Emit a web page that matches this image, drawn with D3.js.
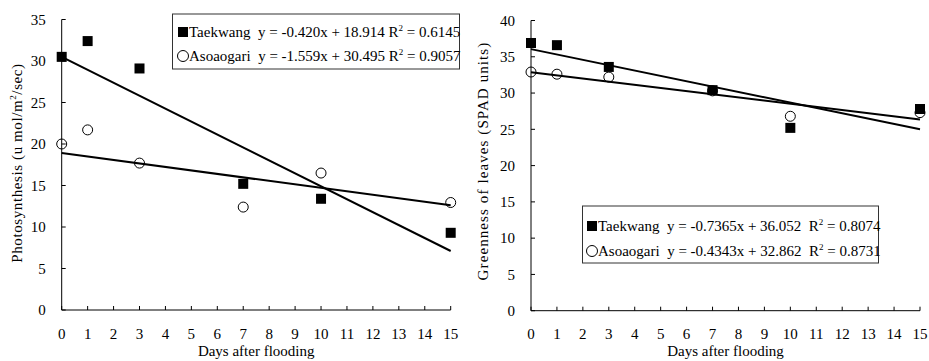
<!DOCTYPE html>
<html>
<head>
<meta charset="utf-8">
<script src="https://cdn.jsdelivr.net/npm/d3@7"></script>
<style>
  html, body { margin: 0; padding: 0; background: #fff; }
  svg { display: block; }
  text { font-family: "Liberation Serif", "Times New Roman", serif; fill: #000; }
</style>
</head>
<body>
<svg id="chart" width="929" height="361" font-family="Liberation Serif, Times New Roman, serif"></svg>
<script>
// ---- data ----
const days = [0, 1, 3, 7, 10, 15];
const xTicks = d3.range(0, 16);

const photoTaekwang  = [30.5, 32.4, 29.1, 15.2, 13.4, 9.3];
const photoAsoaogari = [20.0, 21.7, 17.7, 12.4, 16.5, 12.95];
const photoTicks = [0, 5, 10, 15, 20, 25, 30, 35];

const greenTaekwang  = [36.9, 36.6, 33.6, 30.4, 25.2, 27.8];
const greenAsoaogari = [32.9, 32.6, 32.2, 30.3, 26.8, 27.3];
const greenTicks = [0, 5, 10, 15, 20, 25, 30, 35, 40];

// trend lines [slope, intercept]
const photoTrendTaekwang  = [-1.559, 30.495];
const photoTrendAsoaogari = [-0.420, 18.914];
const greenTrendTaekwang  = [-0.7365, 36.052];
const greenTrendAsoaogari = [-0.4343, 32.862];

// legend texts (as printed in the original)
const photoLegend = [
  {name: "Taekwang", eq: "  y = -0.420x + 18.914 R", r2: " = 0.6145", sym: "square"},
  {name: "Asoaogari", eq: "  y = -1.559x + 30.495 R", r2: " = 0.9057", sym: "circle"}
];
const greenLegend = [
  {name: "Taekwang", eq: "  y = -0.7365x + 36.052  R", r2: " = 0.8074", sym: "square"},
  {name: "Asoaogari", eq: "  y = -0.4343x + 32.862  R", r2: " = 0.8731", sym: "circle"}
];

const svg = d3.select("#chart");
const FS = 15;

function panel(cfg) {
  const g = svg.append("g");
  const x = d3.scaleLinear().domain([0, 15]).range([cfg.x0, cfg.x1]);
  const y = d3.scaleLinear().domain([0, cfg.ymax]).range([cfg.yb, cfg.yt]);

  // axes lines
  g.append("line").attr("x1", cfg.x0).attr("x2", cfg.x0).attr("y1", cfg.yt).attr("y2", cfg.yb)
    .attr("stroke", "#000").attr("stroke-width", 1);
  g.append("line").attr("x1", cfg.x0).attr("x2", cfg.x1).attr("y1", cfg.yb).attr("y2", cfg.yb)
    .attr("stroke", "#000").attr("stroke-width", 1);

  // y ticks (inward)
  g.selectAll(".yt").data(cfg.yticks).enter().append("line")
    .attr("x1", cfg.x0).attr("x2", cfg.x0 + 4)
    .attr("y1", d => y(d)).attr("y2", d => y(d))
    .attr("stroke", "#000");
  g.selectAll(".yl").data(cfg.yticks).enter().append("text")
    .attr("x", cfg.x0 - 16).attr("y", d => y(d)).attr("dy", "0.35em")
    .attr("text-anchor", "end").attr("font-size", FS).text(d => d);

  // x ticks (inward)
  g.selectAll(".xt").data(xTicks).enter().append("line")
    .attr("x1", d => x(d)).attr("x2", d => x(d))
    .attr("y1", cfg.yb).attr("y2", cfg.yb - 4)
    .attr("stroke", "#000");
  g.selectAll(".xl").data(xTicks).enter().append("text")
    .attr("x", d => x(d)).attr("y", 339)
    .attr("text-anchor", "middle").attr("font-size", FS).text(d => d);

  // titles
  g.append("text").attr("x", (cfg.x0 + cfg.x1) / 2).attr("y", 356)
    .attr("text-anchor", "middle").attr("font-size", FS).text("Days after flooding");
  const yt = g.append("text")
    .attr("transform", `translate(${cfg.ytx},${cfg.ytc}) rotate(-90)`)
    .attr("text-anchor", "middle").attr("font-size", FS).attr("dy", "0.35em")
    .attr("letter-spacing", cfg.yls);
  cfg.ytitle(yt);

  // markers
  g.selectAll(".c").data(days.map((d, i) => [d, cfg.b[i]])).enter().append("circle")
    .attr("cx", d => x(d[0])).attr("cy", d => y(d[1])).attr("r", 5)
    .attr("fill", "none").attr("stroke", "#000").attr("stroke-width", 1);
  g.selectAll(".s").data(days.map((d, i) => [d, cfg.a[i]])).enter().append("rect")
    .attr("x", d => x(d[0]) - 5).attr("y", d => y(d[1]) - 5)
    .attr("width", 10).attr("height", 10).attr("fill", "#000");

  // trend lines
  [cfg.ta, cfg.tb].forEach(t => {
    g.append("line")
      .attr("x1", x(0)).attr("y1", y(t[1]))
      .attr("x2", x(15)).attr("y2", y(t[0] * 15 + t[1]))
      .attr("stroke", "#000").attr("stroke-width", 2);
  });

  // legend
  const L = cfg.legend;
  g.append("rect").attr("x", L.x).attr("y", L.y).attr("width", L.w).attr("height", L.h)
    .attr("fill", "#fff").attr("stroke", "#333").attr("stroke-width", 1);
  L.items.forEach((it, i) => {
    const cy = L.rows[i];
    if (it.sym === "square") {
      g.append("rect").attr("x", L.mx - 5).attr("y", cy - 5).attr("width", 10).attr("height", 10).attr("fill", "#000");
    } else {
      g.append("circle").attr("cx", L.mx).attr("cy", cy).attr("r", 5.5)
        .attr("fill", "none").attr("stroke", "#000");
    }
    const t = g.append("text").attr("x", L.tx).attr("y", cy + 5).attr("font-size", FS)
      .attr("xml:space", "preserve").style("white-space", "pre");
    t.append("tspan").text(it.name + it.eq);
    t.append("tspan").attr("dy", -6).attr("font-size", 9).text("2");
    t.append("tspan").attr("dy", 6).text(it.r2);
  });
}

panel({
  x0: 61.7, x1: 450.7, yb: 310, yt: 19.5, ymax: 35, yticks: photoTicks,
  a: photoTaekwang, b: photoAsoaogari, ta: photoTrendTaekwang, tb: photoTrendAsoaogari,
  ytx: 17, ytc: 163, yls: 0.6,
  ytitle: t => {
    t.append("tspan").text("Photosynthesis (u mol/m");
    t.append("tspan").attr("dy", -6).attr("font-size", 9).text("2");
    t.append("tspan").attr("dy", 6).text("/sec)");
  },
  legend: {x: 172.5, y: 14, w: 287, h: 55, mx: 183, tx: 189, rows: [32, 56], items: photoLegend}
});

panel({
  x0: 531, x1: 920, yb: 310.7, yt: 20.5, ymax: 40, yticks: greenTicks,
  a: greenTaekwang, b: greenAsoaogari, ta: greenTrendTaekwang, tb: greenTrendAsoaogari,
  ytx: 483, ytc: 161, yls: 1.1,
  ytitle: t => t.text("Greenness of leaves (SPAD units)"),
  legend: {x: 582.5, y: 206, w: 296, h: 57, mx: 592, tx: 598, rows: [226, 251], items: greenLegend}
});
</script>
</body>
</html>
